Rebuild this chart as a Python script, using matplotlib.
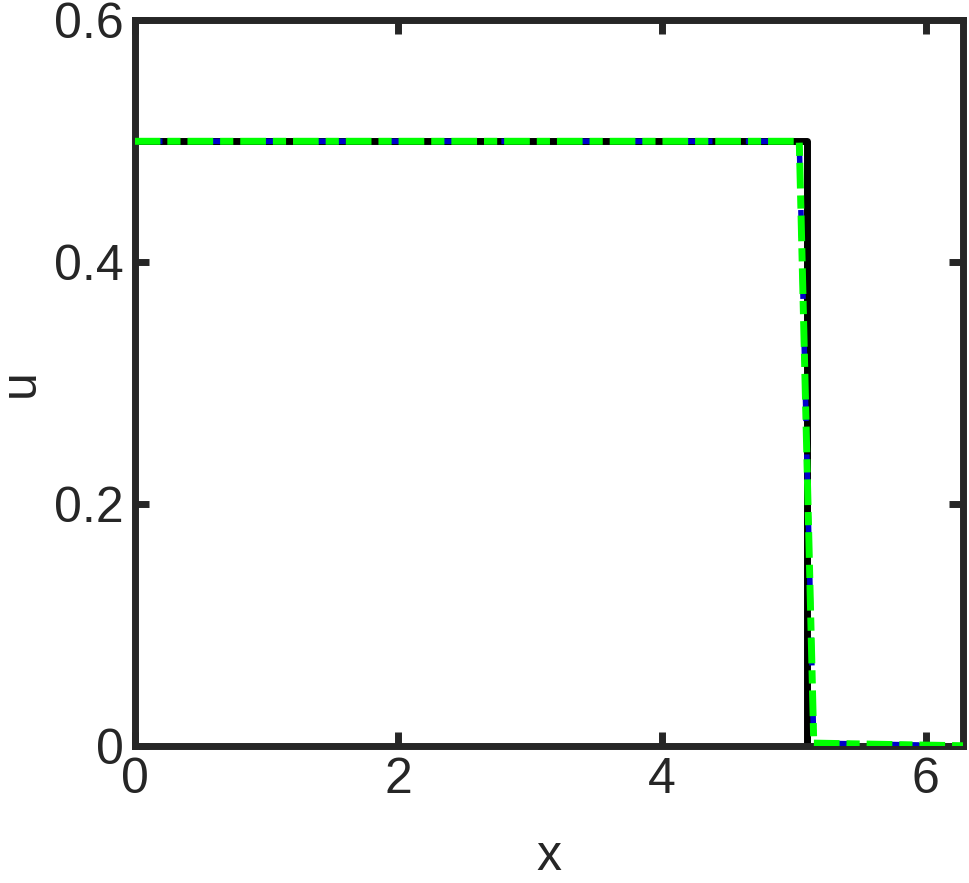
import numpy as np
import matplotlib
matplotlib.use("Agg")
import matplotlib.pyplot as plt

# Data
x_exact = [0.0, 5.095, 5.095, 2 * np.pi]
u_exact = [0.5, 0.5, 0.0, 0.0]
x_num = [0.0, 5.04, 5.15, 2 * np.pi]
u_num1 = [0.5, 0.5, 0.0025, 0.0003]
u_num2 = [0.5, 0.5, 0.0025, 0.0003]
xticks = [0, 2, 4, 6]
yticks = [0, 0.2, 0.4, 0.6]
yticklabels = ["0", "0.2", "0.4", "0.6"]

plt.rcParams['font.family'] = ['Liberation Sans', 'DejaVu Sans']
fig = plt.figure(figsize=(9.69, 8.83), dpi=100)
ax = fig.add_axes([0.139, 0.155, 0.855, 0.822])

ax.plot(x_exact, u_exact, color='black', lw=5, solid_joinstyle='round', zorder=2)
b, = ax.plot(x_num, u_num1, color='#0000cc', lw=4, zorder=3, dash_capstyle='butt')
b.set_dashes((5.0, 6.0))
l, = ax.plot(x_num, u_num2, color='#00ff00', lw=5, zorder=4, dash_capstyle='butt')
l.set_dashes((3.7, 1.0, 1.9, 1.0))

ax.set_xlim(0, 2 * np.pi)
ax.set_ylim(0, 0.6)
ax.set_xticks(xticks)
ax.set_yticks(yticks)
ax.set_yticklabels(yticklabels)
ax.set_xlabel('x', fontsize=36, color='#262626', labelpad=22)
ax.set_ylabel('u', fontsize=36, color='#262626', labelpad=7)
ax.tick_params(direction='in', length=10, width=5, colors='#262626', labelsize=36,
               top=True, right=True, pad=8)
for s in ax.spines.values():
    s.set_linewidth(5)
    s.set_color('#262626')

fig.savefig('out.png', dpi=100)
